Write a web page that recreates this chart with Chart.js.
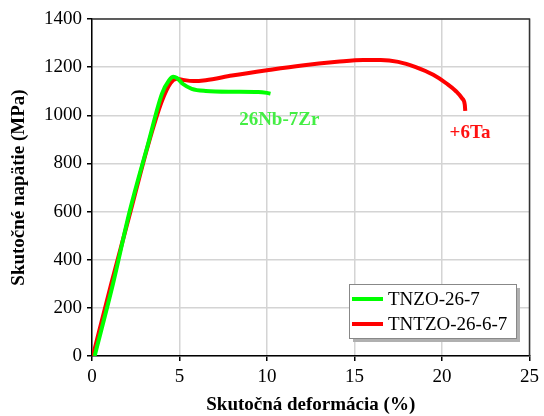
<!DOCTYPE html>
<html>
<head>
<meta charset="utf-8">
<script src="https://cdn.jsdelivr.net/npm/chart.js@4"></script>
<style>
    html, body { margin: 0; padding: 0; background: #fff; }
    #wrap { width: 544px; height: 416px; }
</style>
</head>
<body>
<div id="wrap"><canvas id="stressChart" width="544" height="416"></canvas></div>
<script>
// Stress-strain curves

const seriesNames = ['TNZO-26-7', 'TNTZO-26-6-7'];
const seriesColors = ['#00ff00', '#ff0000'];

const tnzoStrain = [0.15, 1.2, 2.15, 3.2, 4.0, 4.4, 4.65, 4.85, 5.2, 5.7, 6.5, 8.0, 9.5, 10.0, 10.2];
const tnzoStress = [0, 300, 600, 880, 1090, 1145, 1160, 1155, 1130, 1110, 1101, 1098, 1097, 1093, 1090];

const tntzoStrain = [0.05, 1.1, 2.2, 3.2, 4.0, 4.5, 4.85, 5.2, 5.8, 6.5, 8.0, 10.0, 12.0, 14.0, 15.5, 16.5, 17.5, 18.5, 19.5, 20.3, 20.8, 21.15, 21.3, 21.33];
const tntzoStress = [0, 300, 600, 875, 1060, 1135, 1152, 1147, 1142, 1146, 1165, 1187, 1207, 1222, 1230, 1230, 1222, 1200, 1168, 1130, 1100, 1070, 1045, 1018];

const xTicks = [0, 5, 10, 15, 20, 25];
const yTicks = [0, 200, 400, 600, 800, 1000, 1200, 1400];

const curveLabels = [
    { text: '26Nb-7Zr', x: 10.7, y: 982, color: '#44ee44' },
    { text: '+6Ta', x: 21.6, y: 928, color: '#ff1111' }
];

const serif = '"Liberation Serif", serif';

function toPoints(xs, ys) {
    return xs.map((x, i) => ({ x: x, y: ys[i] }));
}

// top/right frame, curve labels, legend box
const extrasPlugin = {
    id: 'extras',
    afterDraw(chart) {
        const ctx = chart.ctx;
        const a = chart.chartArea;
        const xs = chart.scales.x;
        const ys = chart.scales.y;
        ctx.save();
        ctx.strokeStyle = '#333';
        ctx.lineWidth = 1.5;
        ctx.beginPath();
        ctx.moveTo(a.left, a.top);
        ctx.lineTo(a.right, a.top);
        ctx.lineTo(a.right, a.bottom);
        ctx.stroke();

        ctx.font = 'bold 19px ' + serif;
        ctx.textAlign = 'center';
        ctx.textBaseline = 'middle';
        curveLabels.forEach(l => {
            ctx.fillStyle = l.color;
            ctx.fillText(l.text, xs.getPixelForValue(l.x), ys.getPixelForValue(l.y));
        });

        // legend
        const bx = 349, by = 284, bw = 167, bh = 54;
        ctx.fillStyle = '#b0b0b0';
        ctx.fillRect(bx + 4, by + 4, bw, bh);
        ctx.fillStyle = '#fff';
        ctx.fillRect(bx, by, bw, bh);
        ctx.strokeStyle = '#888';
        ctx.lineWidth = 1;
        ctx.strokeRect(bx + 0.5, by + 0.5, bw, bh);
        ctx.font = 'normal 19px ' + serif;
        ctx.textAlign = 'left';
        chart.data.datasets.forEach((ds, i) => {
            const yy = by + 15 + i * 25;
            ctx.strokeStyle = ds.borderColor;
            ctx.lineWidth = 4;
            ctx.beginPath();
            ctx.moveTo(bx + 3, yy);
            ctx.lineTo(bx + 34, yy);
            ctx.stroke();
            ctx.fillStyle = '#000';
            ctx.fillText(ds.label, bx + 39, yy + 1);
        });
        ctx.restore();
    }
};

function renderChart() {
    const ctx = document.getElementById('stressChart').getContext('2d');
    new Chart(ctx, {
        type: 'line',
        data: {
            datasets: [
                {
                    label: seriesNames[0],
                    data: toPoints(tnzoStrain, tnzoStress),
                    borderColor: seriesColors[0],
                    borderWidth: 4,
                    pointRadius: 0,
                    cubicInterpolationMode: 'monotone',
                    fill: false
                },
                {
                    label: seriesNames[1],
                    data: toPoints(tntzoStrain, tntzoStress),
                    borderColor: seriesColors[1],
                    borderWidth: 4,
                    pointRadius: 0,
                    cubicInterpolationMode: 'monotone',
                    fill: false
                }
            ]
        },
        options: {
            responsive: false,
            animation: false,
            font: { family: serif },
            layout: { padding: { left: 0, right: 8, top: 19, bottom: 0 } },
            plugins: {
                legend: { display: false },
                tooltip: { enabled: false }
            },
            scales: {
                x: {
                    type: 'linear',
                    min: 0,
                    max: 25,
                    afterBuildTicks: s => { s.ticks = xTicks.map(v => ({ value: v })); },
                    afterFit: s => { s.height = 60; },
                    grid: { color: '#d4d4d4', lineWidth: 1.5, tickColor: '#000', tickLength: 5 },
                    border: { color: '#000', width: 1.5 },
                    ticks: { color: '#000', font: { family: serif, size: 19, weight: 'normal' }, padding: 5, maxRotation: 0, callback: v => String(v) },
                    title: {
                        display: true,
                        text: 'Skutočná deformácia (%)',
                        color: '#000',
                        font: { family: serif, size: 19, weight: 'bold' },
                        padding: { top: 10, bottom: 0 }
                    }
                },
                y: {
                    min: 0,
                    max: 1400,
                    afterBuildTicks: s => { s.ticks = yTicks.map(v => ({ value: v })); },
                    afterFit: s => { s.width = 92; },
                    grid: { color: '#d4d4d4', lineWidth: 1.5, tickColor: '#000', tickLength: 5 },
                    border: { color: '#000', width: 1.5 },
                    ticks: { color: '#000', font: { family: serif, size: 19, weight: 'normal' }, padding: 5, callback: v => String(v) },
                    title: {
                        display: true,
                        text: 'Skutočné napätie (MPa)',
                        color: '#000',
                        font: { family: serif, size: 19, weight: 'bold' },
                        padding: { top: 8, bottom: 4 }
                    }
                }
            }
        },
        plugins: [extrasPlugin]
    });
}

document.addEventListener('DOMContentLoaded', () => {
    renderChart();
});
</script>
</body>
</html>
